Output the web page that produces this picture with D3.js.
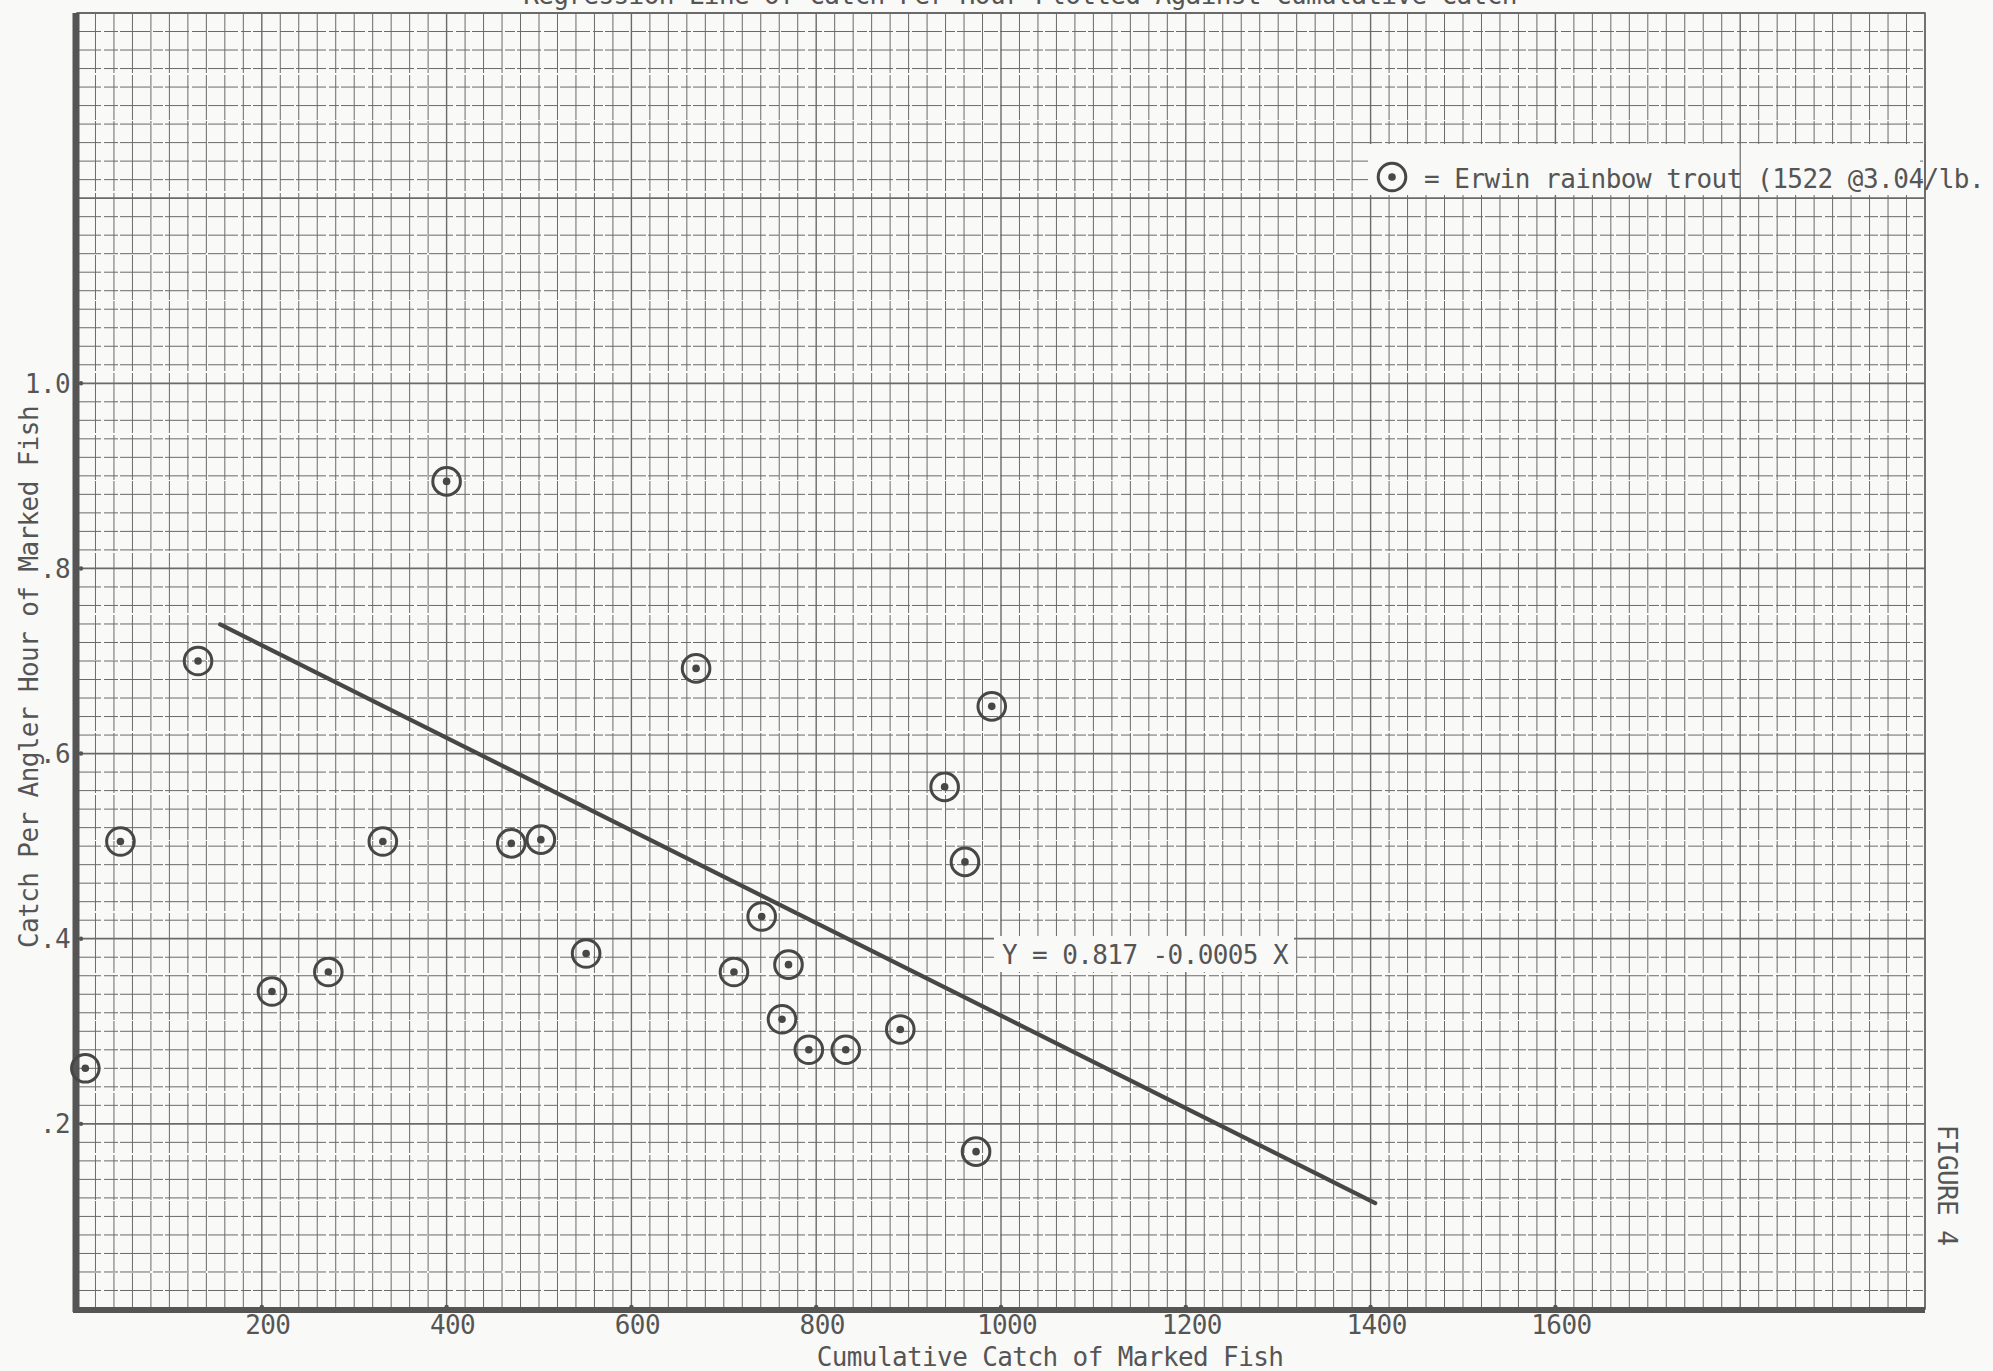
<!DOCTYPE html>
<html>
<head>
<meta charset="utf-8">
<script src="https://cdn.jsdelivr.net/npm/d3@7"></script>
<style>
  html, body { margin: 0; padding: 0; background: #f9f9f7; }
  svg { display: block; }
  text { font-family: "DejaVu Sans Mono", "Liberation Mono", monospace; fill: #555555; }
</style>
</head>
<body>
<svg id="chart" width="1993" height="1371"></svg>
<script>
// Cumulative catch of marked fish (x) and catch per angler hour (y), one pair per creel day
const cumulativeCatch = [9, 47, 131, 211, 272, 331, 400, 470, 502, 551, 670, 711, 741, 763, 770, 792, 832, 891, 939, 961, 973, 990];
const catchPerHour = [0.26, 0.505, 0.70, 0.343, 0.364, 0.505, 0.894, 0.503, 0.507, 0.384, 0.692, 0.364, 0.424, 0.313, 0.372, 0.28, 0.28, 0.302, 0.564, 0.483, 0.17, 0.651];

// Fitted regression Y = a + b X, drawn over this span of X
const intercept = 0.817;
const slope = -0.0005;
const fitSpan = [155, 1405];

// Axis ticks and their typed labels
const xTickValues = [200, 400, 600, 800, 1000, 1200, 1400, 1600];
const yTickValues = [0.2, 0.4, 0.6, 0.8, 1.0];
const yTickLabels = [".2", ".4", ".6", ".8", "1.0"];

const titleText = "Regression Line of Catch Per Hour Plotted Against Cumulative Catch";
const xTitle = "Cumulative Catch of Marked Fish";
const yTitle = "Catch Per Angler Hour of Marked Fish";
const legendText = "= Erwin rainbow trout (1522 @3.04/lb.";
const equationText = "Y = 0.817 -0.0005 X";
const figureText = "FIGURE 4";

const svg = d3.select("#chart");

const x = d3.scaleLinear().domain([0, 2000]).range([77, 1925]);
const y = d3.scaleLinear().domain([0, 1.4]).range([1309, 13]);

const ink = "#474747";
const gridInk = "#6a6a6a";
const paper = "#f9f9f7";

// ---- graph paper ----
const grid = svg.append("g");

// vertical rulings every 20 units, slightly heavier every 200
grid.selectAll("line.v")
  .data(d3.range(0, 2000.1, 20))
  .join("line")
  .attr("x1", d => x(d)).attr("x2", d => x(d))
  .attr("y1", y(1.4)).attr("y2", y(0))
  .attr("stroke", gridInk)
  .attr("stroke-width", (d, i) => i % 10 === 0 ? 1.4 : 1.0)
  .attr("stroke-dasharray", (d, i) => i % 10 === 0 ? null : "60 2 45 1 70 2");

// horizontal rulings every 0.02, heavier every 0.2
grid.selectAll("line.h")
  .data(d3.range(0, 71).map(i => i * 0.02))
  .join("line")
  .attr("x1", x(0)).attr("x2", x(2000))
  .attr("y1", d => y(d)).attr("y2", d => y(d))
  .attr("stroke", gridInk)
  .attr("stroke-width", (d, i) => i % 10 === 0 ? 1.8 : 1.0)
  .attr("stroke-dasharray", (d, i) => i % 10 === 0 ? null : "24 3 14 2 30 3 10 2");

// paper border
grid.append("rect")
  .attr("x", x(0)).attr("y", y(1.4))
  .attr("width", x(2000) - x(0)).attr("height", y(0) - y(1.4))
  .attr("fill", "none").attr("stroke", gridInk).attr("stroke-width", 1.6);

// cleared area behind the legend
svg.append("rect")
  .attr("x", 1368).attr("y", 144).attr("width", 552).attr("height", 51)
  .attr("fill", paper);
svg.append("line")
  .attr("x1", x(1800)).attr("x2", x(1800)).attr("y1", 144).attr("y2", 195)
  .attr("stroke", gridInk).attr("stroke-width", 1.2);
svg.append("line")
  .attr("x1", x(2000)).attr("x2", x(2000)).attr("y1", 144).attr("y2", 195)
  .attr("stroke", gridInk).attr("stroke-width", 1.6);

// ---- axes ----
svg.append("line")
  .attr("x1", x(0) - 1).attr("x2", x(0) - 1)
  .attr("y1", y(1.4)).attr("y2", y(0) + 3)
  .attr("stroke", "#555").attr("stroke-width", 7);
svg.append("line")
  .attr("x1", x(0) - 4).attr("x2", x(2000))
  .attr("y1", y(0) + 1).attr("y2", y(0) + 1)
  .attr("stroke", "#555").attr("stroke-width", 6);

// small tick bumps on the axes
svg.selectAll("circle.xt")
  .data(xTickValues)
  .join("circle")
  .attr("cx", d => x(d)).attr("cy", y(0) - 2).attr("r", 2.2)
  .attr("fill", "#555");
svg.selectAll("circle.yt")
  .data(yTickValues)
  .join("circle")
  .attr("cx", x(0) + 4).attr("cy", d => y(d)).attr("r", 2.2)
  .attr("fill", "#555");

const typed = sel => sel.attr("font-size", 26).attr("letter-spacing", -0.6);

// x tick labels
svg.selectAll("text.xl")
  .data(xTickValues)
  .join("text")
  .call(typed)
  .attr("x", d => x(d) + 6)
  .attr("y", 1334)
  .attr("text-anchor", "middle")
  .text(d => String(d));

// y tick labels
svg.selectAll("text.yl")
  .data(yTickValues)
  .join("text")
  .call(typed)
  .attr("x", 70)
  .attr("y", d => y(d))
  .attr("dy", "0.36em")
  .attr("text-anchor", "end")
  .text((d, i) => yTickLabels[i]);

// axis titles
svg.append("text").call(typed)
  .attr("x", 1050).attr("y", 1366)
  .attr("text-anchor", "middle")
  .text(xTitle);

svg.append("text").call(typed)
  .attr("transform", "translate(38,677) rotate(-90)")
  .attr("text-anchor", "middle")
  .text(yTitle);

// heading, cut off by the top of the sheet
svg.append("text").call(typed)
  .attr("x", 1020).attr("y", 4)
  .attr("text-anchor", "middle")
  .text(titleText);

// ---- regression line ----
svg.append("line")
  .attr("x1", x(fitSpan[0])).attr("y1", y(intercept + slope * fitSpan[0]))
  .attr("x2", x(fitSpan[1])).attr("y2", y(intercept + slope * fitSpan[1]))
  .attr("stroke", ink).attr("stroke-width", 4.2).attr("stroke-linecap", "round");

// equation label on a cleared patch
svg.append("rect")
  .attr("x", 994).attr("y", 936).attr("width", 300).attr("height", 36)
  .attr("fill", paper);
svg.append("text").call(typed)
  .attr("x", 1002).attr("y", 964)
  .text(equationText);

// ---- observations: ringed dots ----
const pts = cumulativeCatch.map((c, i) => ({ c, r: catchPerHour[i] }));
const marks = svg.append("g").selectAll("g")
  .data(pts)
  .join("g")
  .attr("transform", d => `translate(${x(d.c)},${y(d.r)})`);
marks.append("circle")
  .attr("r", 13.8).attr("fill", "none")
  .attr("stroke", ink).attr("stroke-width", 3);
marks.append("circle")
  .attr("r", 3.8).attr("fill", ink);

// ---- legend ----
svg.append("circle")
  .attr("cx", 1392).attr("cy", 177).attr("r", 13.8)
  .attr("fill", "none").attr("stroke", ink).attr("stroke-width", 3);
svg.append("circle")
  .attr("cx", 1392).attr("cy", 177).attr("r", 3.8).attr("fill", ink);
svg.append("text").call(typed)
  .attr("x", 1424).attr("y", 188)
  .attr("textLength", 560).attr("lengthAdjust", "spacing")
  .text(legendText);

// figure number along the right margin
svg.append("text").call(typed)
  .attr("transform", "translate(1938,1185) rotate(90)")
  .attr("text-anchor", "middle")
  .text(figureText);
</script>
</body>
</html>
